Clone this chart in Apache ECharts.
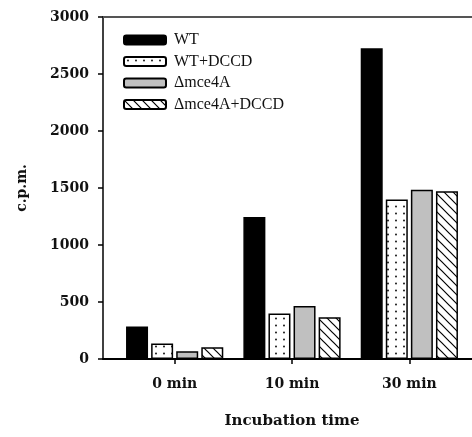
<!DOCTYPE html>
<html>
<head>
<meta charset="utf-8">
<script src="https://cdn.jsdelivr.net/npm/echarts@6/dist/echarts.min.js"></script>
<style>
  html, body { margin: 0; padding: 0; background: #fff; }
  #chart { width: 472px; height: 437px; }
</style>
</head>
<body>
<div id="chart"></div>
<script>
// --- data ---
const categories = ['0 min', '10 min', '30 min'];
const seriesNames = ['WT', 'WT+DCCD', '\u0394mce4A', '\u0394mce4A+DCCD'];
const wt = [285, 1245, 2725];
const wtDccd = [137, 400, 1400];
const mce4a = [68, 466, 1485];
const mce4aDccd = [102, 367, 1472];
const yTicks = { min: 0, max: 3000, interval: 500 };

// --- fill patterns ---
function dotPattern() {
  const c = document.createElement('canvas');
  c.width = 8; c.height = 7;
  const g = c.getContext('2d');
  g.fillStyle = '#fff'; g.fillRect(0, 0, 8, 7);
  g.fillStyle = '#000';
  g.beginPath(); g.arc(4, 3.5, 0.9, 0, Math.PI * 2); g.fill();
  return { image: c, repeat: 'repeat' };
}
function hatchPattern() {
  const s = 9;
  const c = document.createElement('canvas');
  c.width = s; c.height = s;
  const g = c.getContext('2d');
  g.fillStyle = '#fff'; g.fillRect(0, 0, s, s);
  g.strokeStyle = '#000'; g.lineWidth = 1.2;
  g.beginPath();
  g.moveTo(-1, -1); g.lineTo(s + 1, s + 1);
  g.moveTo(-1, s - 1); g.lineTo(1, s + 1);
  g.moveTo(s - 1, -1); g.lineTo(s + 1, 1);
  g.stroke();
  return { image: c, repeat: 'repeat' };
}

const fills = ['#000', dotPattern(), '#c0c0c0', hatchPattern()];
const values = [wt, wtDccd, mce4a, mce4aDccd];

const axisFont = { fontFamily: 'DejaVu Serif', fontWeight: 'bold', fontSize: 14, color: '#111' };

const chart = echarts.init(document.getElementById('chart'));
chart.setOption({
  animation: false,
  backgroundColor: '#fff',
  grid: [
    { left: 103, right: 0, top: 17, bottom: 78 },
    { left: 116, right: 4, top: 17, bottom: 78 }
  ],
  legend: {
    orient: 'vertical',
    left: 118,
    top: 27,
    itemWidth: 42,
    itemHeight: 9,
    itemGap: 5.5,
    icon: 'roundRect',
    data: seriesNames,
    textStyle: { fontFamily: 'Liberation Serif', fontSize: 16, color: '#111', padding: [0, 0, 0, 3] }
  },
  xAxis: [
    {
      type: 'value', gridIndex: 0, position: 'bottom',
      axisLine: { show: true, lineStyle: { color: '#000', width: 2 } },
      axisTick: { show: false }, axisLabel: { show: false }, splitLine: { show: false }
    },
    {
      type: 'value', gridIndex: 0, position: 'top',
      axisLine: { show: true, lineStyle: { color: '#555', width: 2 } },
      axisTick: { show: false }, axisLabel: { show: false }, splitLine: { show: false }
    },
    {
      type: 'category', gridIndex: 1, data: categories,
      axisLine: { show: false },
      axisTick: { show: true, alignWithLabel: true, length: 5, lineStyle: { color: '#000', width: 1.5 } },
      axisLabel: Object.assign({ margin: 18 }, axisFont),
      name: 'Incubation time',
      nameLocation: 'middle',
      nameGap: 55,
      nameTextStyle: Object.assign({}, axisFont, { fontSize: 15 })
    }
  ],
  yAxis: [
    {
      type: 'value', gridIndex: 0,
      min: yTicks.min, max: yTicks.max, interval: yTicks.interval,
      axisLine: { show: true, lineStyle: { color: '#000', width: 1.5 } },
      axisTick: { show: true, length: 5, lineStyle: { color: '#000', width: 1.5 } },
      axisLabel: Object.assign({ margin: 14, formatter: (v) => String(v) }, axisFont),
      splitLine: { show: false },
      name: 'c.p.m.',
      nameLocation: 'middle',
      nameGap: 74,
      nameTextStyle: axisFont
    },
    {
      type: 'value', gridIndex: 1,
      min: yTicks.min, max: yTicks.max, interval: yTicks.interval,
      show: false
    }
  ],
  series: seriesNames.map((name, i) => ({
    name: name,
    type: 'bar',
    xAxisIndex: 2,
    yAxisIndex: 1,
    data: values[i],
    barWidth: 22,
    barGap: '14%',
    itemStyle: { color: fills[i], borderColor: '#000', borderWidth: 1.5 }
  }))
});
</script>
</body>
</html>
